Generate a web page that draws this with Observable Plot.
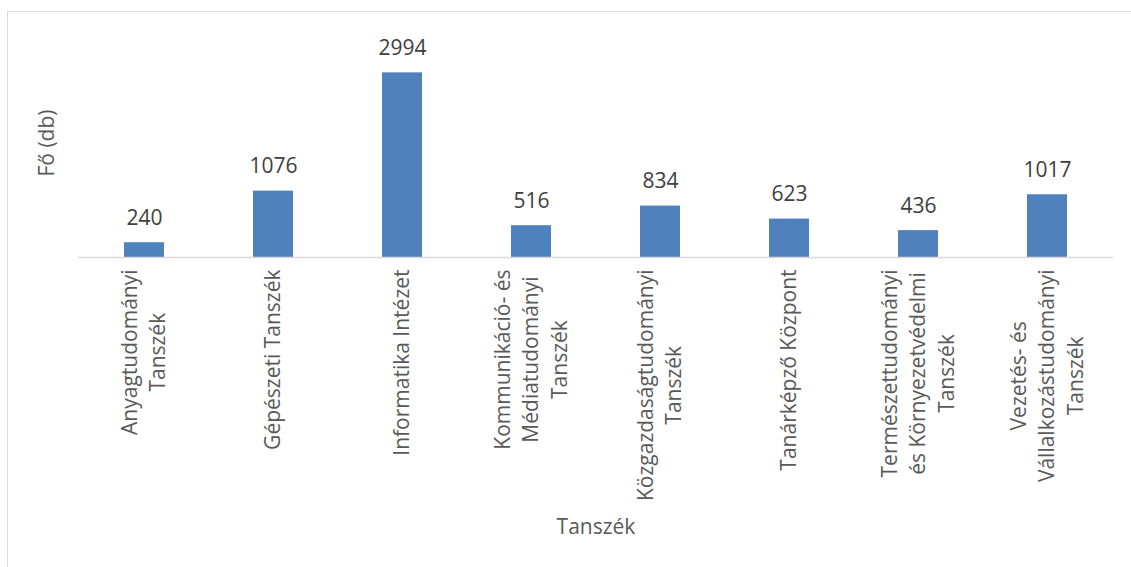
<!DOCTYPE html>
<html>
<head>
<meta charset="utf-8">
<script src="https://cdn.jsdelivr.net/npm/d3@7"></script>
<script src="https://cdn.jsdelivr.net/npm/@observablehq/plot@0.6"></script>
<style>
  html, body { margin: 0; padding: 0; background: #fff; overflow: hidden; }
  #wrap { position: relative; width: 1131px; height: 567px; }
  #wrap svg { position: absolute; left: 0; top: 0; }
  #frame { position: absolute; left: 7px; top: 11px; width: 1300px; height: 700px;
           border: 1px solid #d9d9d9; box-sizing: border-box; pointer-events: none; }
</style>
</head>
<body>
<div id="wrap"><div id="frame"></div></div>
<script>
const categories = [
  "Anyagtudományi\nTanszék",
  "Gépészeti Tanszék",
  "Informatika Intézet",
  "Kommunikáció- és\nMédiatudományi\nTanszék",
  "Közgazdaságtudományi\nTanszék",
  "Tanárképző Központ",
  "Természettudományi\nés Környezetvédelmi\nTanszék",
  "Vezetés- és\nVállalkozástudományi\nTanszék"
];
const values = [240, 1076, 2994, 516, 834, 623, 436, 1017];
const xTitle = "Tanszék";
const yTitle = "Fő (db)";

const data = categories.map((c, i) => ({cat: c, value: values[i]}));
const fontFamily = "'Open Sans', sans-serif";
const fs = 21;
const lineH = 28.5;

const ctx = document.createElement("canvas").getContext("2d");
ctx.font = `${fs}px 'Open Sans'`;

const labelMarks = [];
categories.forEach((c) => {
  const lines = c.split("\n");
  const maxW = Math.max(...lines.map(l => ctx.measureText(l).width));
  lines.forEach((l, j) => {
    labelMarks.push(Plot.text([{cat: c, line: l}], {
      x: "cat", y: () => 0, text: "line", rotate: -90,
      textAnchor: "middle", lineAnchor: "middle",
      dy: 12 + maxW / 2, dx: (j - (lines.length - 1) / 2) * lineH,
      fill: "#595959", fontSize: fs
    }));
  });
});

const chart = Plot.plot({
  width: 1131,
  height: 567,
  marginLeft: 78,
  marginRight: 18,
  marginTop: 72,
  marginBottom: 310,
  style: {fontFamily, fontSize: fs + "px", background: "transparent"},
  x: {domain: categories, paddingInner: 0.69, paddingOuter: 0.345, axis: null},
  y: {domain: [0, 3000], axis: null},
  marks: [
    Plot.barY(data, {x: "cat", y: "value", fill: "#4f81bd"}),
    Plot.ruleY([0], {stroke: "#d9d9d9", strokeWidth: 1.3}),
    Plot.text(data, {x: "cat", y: "value", text: d => String(d.value), dy: -18,
      lineAnchor: "bottom", fill: "#404040", fontSize: fs}),
    ...labelMarks,
    Plot.text([xTitle], {frameAnchor: "bottom", dy: 270, textAnchor: "middle",
      lineAnchor: "middle", fill: "#595959", fontSize: fs}),
    Plot.text([yTitle], {frameAnchor: "left", dx: -31, dy: -22, rotate: -90,
      textAnchor: "middle", lineAnchor: "middle", fill: "#595959", fontSize: fs})
  ]
});
document.getElementById("wrap").prepend(chart);
</script>
</body>
</html>
